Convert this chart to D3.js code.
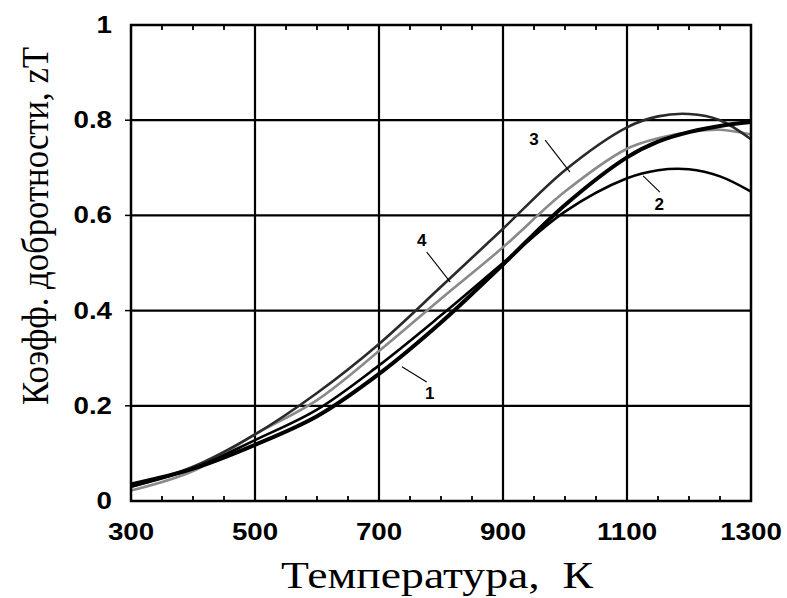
<!DOCTYPE html>
<html><head><meta charset="utf-8">
<script src="https://cdn.jsdelivr.net/npm/d3@7"></script>
<style>body{margin:0;background:#fff}svg{display:block}</style>
</head><body>
<script>
const temps = [300,400,500,600,700,800,900,1000,1100,1150,1200,1250,1300];
const zt1 = [0.035,0.068,0.118,0.178,0.267,0.375,0.497,0.622,0.722,0.755,0.775,0.788,0.796];
const zt2 = [0.030,0.068,0.128,0.192,0.285,0.390,0.500,0.608,0.678,0.695,0.697,0.682,0.650];
const zt3 = [0.030,0.072,0.140,0.227,0.330,0.450,0.572,0.695,0.785,0.808,0.813,0.800,0.760];
const zt4 = [0.022,0.063,0.140,0.212,0.315,0.425,0.533,0.650,0.740,0.762,0.775,0.780,0.770];
const seriesNames = ["1","2","3","4"];
const xTicks = [300,500,700,900,1100,1300];
const yTicks = [0,0.2,0.4,0.6,0.8,1];
const yTickLabels = ["0","0.2","0.4","0.6","0.8","1"];
const xTitle = "Температура,  К";
const yTitle = "Коэфф. добротности, zT";
// label anchors in data units: [textT, textV, lineT1, lineV1, lineT2, lineV2]
const labelAnchors = [
  [782,0.226,737,0.282,777,0.250],
  [1152,0.622,1126,0.683,1153,0.649],
  [950,0.760,968,0.758,1008,0.691],
  [769,0.548,777,0.523,815,0.460]
];

const W=787,H=598;
const svg=d3.select("body").append("svg").attr("width",W).attr("height",H);
const x=d3.scaleLinear().domain([300,1300]).range([131,751]);
const y=d3.scaleLinear().domain([0,1]).range([501,25]);

// grid
const g=svg.append("g");
g.selectAll(".vg").data(xTicks.slice(1,-1)).enter().append("line")
 .attr("x1",d=>x(d)).attr("x2",d=>x(d)).attr("y1",y(0)).attr("y2",y(1))
 .attr("stroke","#000").attr("stroke-width",2.2);
g.selectAll(".hg").data(yTicks.slice(1,-1)).enter().append("line")
 .attr("x1",x(300)).attr("x2",x(1300)).attr("y1",d=>y(d)).attr("y2",d=>y(d))
 .attr("stroke","#000").attr("stroke-width",2.2);

// minor ticks x (inside, top & bottom)
const minor=d3.range(350,1300,50).filter(d=>d%200!==100);
g.selectAll(".mb").data(minor).enter().append("line")
 .attr("x1",d=>x(d)).attr("x2",d=>x(d)).attr("y1",y(0)).attr("y2",y(0)-5)
 .attr("stroke","#000").attr("stroke-width",1.8);
g.selectAll(".mt").data(minor).enter().append("line")
 .attr("x1",d=>x(d)).attr("x2",d=>x(d)).attr("y1",y(1)).attr("y2",y(1)+5)
 .attr("stroke","#000").attr("stroke-width",1.8);
// y outward ticks
g.selectAll(".yt").data(yTicks.slice(1,-1)).enter().append("line")
 .attr("x1",x(300)-6).attr("x2",x(300)).attr("y1",d=>y(d)).attr("y2",d=>y(d))
 .attr("stroke","#000").attr("stroke-width",1.5);

// curves
const cols=["#000","#000","#2a2a2a","#8a8a8a"];
const widths=[4,2.6,2.6,2.6];
const all=[zt1,zt2,zt3,zt4];
const line=d3.line().x((d,i)=>x(temps[i])).y(d=>y(d)).curve(d3.curveCatmullRom.alpha(0.5));
const order=[3,2,1,0];
order.forEach(k=>{
  svg.append("path").attr("d",line(all[k])).attr("fill","none")
   .attr("stroke",cols[k]).attr("stroke-width",widths[k]).attr("stroke-linejoin","round");
});

// frame
svg.append("rect").attr("x",x(300)).attr("y",y(1)).attr("width",x(1300)-x(300)).attr("height",y(0)-y(1))
 .attr("fill","none").attr("stroke","#000").attr("stroke-width",2.5);

// labels
labelAnchors.forEach((a,i)=>{
  svg.append("line").attr("x1",x(a[2])).attr("y1",y(a[3])).attr("x2",x(a[4])).attr("y2",y(a[5]))
   .attr("stroke","#000").attr("stroke-width",1.1);
  svg.append("text").attr("x",x(a[0])).attr("y",y(a[1])).attr("text-anchor","middle")
   .attr("dominant-baseline","central").attr("font-family","Liberation Sans, Arial, sans-serif")
   .attr("font-weight","bold").attr("font-size",17).text(seriesNames[i]);
});

// tick labels
const tickFont="Liberation Sans, Arial, sans-serif";
xTicks.forEach(t=>{
  svg.append("text").attr("transform",`translate(${x(t)},540) scale(1.18,1)`)
   .attr("text-anchor","middle").attr("font-family",tickFont).attr("font-weight","bold")
   .attr("font-size",23.5).text(t);
});
yTicks.forEach((v,i)=>{
  svg.append("text").attr("transform",`translate(112,${y(v)+8}) scale(1.18,1)`)
   .attr("text-anchor","end").attr("font-family",tickFont).attr("font-weight","bold")
   .attr("font-size",23.5).text(yTickLabels[i]);
});

// titles
svg.append("text").attr("x",437).attr("y",588).attr("text-anchor","middle")
 .style("white-space","pre")
 .attr("font-family","Liberation Serif, Times New Roman, serif").attr("font-size",37)
 .attr("textLength",312).attr("lengthAdjust","spacingAndGlyphs").text(xTitle);
svg.append("text").attr("transform","translate(48,226) rotate(-90)").attr("text-anchor","middle")
 .attr("font-family","Liberation Serif, Times New Roman, serif").attr("font-size",37)
 .attr("textLength",358).attr("lengthAdjust","spacingAndGlyphs").text(yTitle);
</script>
</body></html>
